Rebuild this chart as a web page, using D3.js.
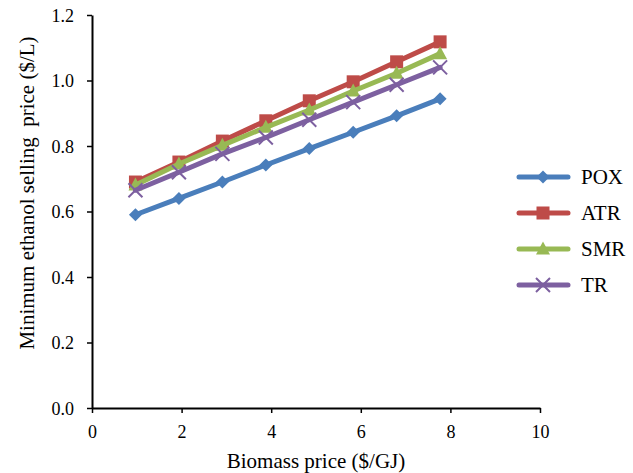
<!DOCTYPE html>
<html>
<head>
<meta charset="utf-8">
<script src="https://cdn.jsdelivr.net/npm/d3@7"></script>
<style>
  body { margin: 0; background: #fff; }
  svg { display: block; }
  svg text { font-family: "Times New Roman", "Liberation Serif", Tinos, serif !important; fill: #000; }
  .tick text { font-size: 18px; }
</style>
</head>
<body>
<svg id="chart" width="633" height="473"></svg>
<script>
// Biomass price ($/GJ) and minimum ethanol selling price ($/L) per process
const biomassPrice = [0.97, 1.94, 2.91, 3.88, 4.85, 5.83, 6.80, 7.77];
const pox = [0.59, 0.64, 0.69, 0.742, 0.792, 0.842, 0.892, 0.944];
const atr = [0.69, 0.751, 0.815, 0.877, 0.938, 0.996, 1.057, 1.118];
const smr = [0.681, 0.745, 0.802, 0.857, 0.91, 0.968, 1.022, 1.082];
const tr  = [0.665, 0.72, 0.776, 0.826, 0.88, 0.934, 0.987, 1.04];
const seriesNames = ["POX", "ATR", "SMR", "TR"];
const seriesColors = ["#4A7EBB", "#BE4B48", "#98B954", "#7D60A0"];
const seriesMarkers = ["diamond", "square", "triangle", "cross"];
const xTicks = [0, 2, 4, 6, 8, 10];
const yTicks = [0, 0.2, 0.4, 0.6, 0.8, 1.0, 1.2];

const seriesValues = [pox, atr, smr, tr];
const svg = d3.select("#chart");

const x = d3.scaleLinear().domain([0, 10]).range([92, 540]);
const y = d3.scaleLinear().domain([0, 1.2]).range([408, 15]);

// Axes
const xAxis = svg.append("g")
  .attr("transform", `translate(0,${y(0)})`)
  .call(d3.axisBottom(x).tickValues(xTicks).tickSize(5).tickSizeOuter(0).tickFormat(d3.format("d")));
const yAxis = svg.append("g")
  .attr("transform", `translate(${x(0)},0)`)
  .call(d3.axisLeft(y).tickValues(yTicks).tickSize(5).tickSizeOuter(0).tickFormat(d3.format(".1f")));

[xAxis, yAxis].forEach(g => {
  g.attr("font-family", null).attr("font-size", 18);
  g.select(".domain").attr("stroke", "#000").attr("stroke-width", 2);
  g.selectAll(".tick line").attr("stroke", "#000").attr("stroke-width", 1.5);
  g.selectAll(".tick text").attr("font-size", 18);
});
xAxis.selectAll(".tick text").attr("y", 30).attr("dy", 0);
yAxis.selectAll(".tick text").attr("x", -18).attr("dy", "0.34em");

// Axis titles
svg.append("text")
  .attr("x", x(5)).attr("y", 468)
  .attr("text-anchor", "middle")
  .style("font-size", "21px")
  .text("Biomass price ($/GJ)");
svg.append("text")
  .attr("transform", `translate(34,${193}) rotate(-90)`)
  .attr("text-anchor", "middle")
  .style("font-size", "21px")
  .style("white-space", "pre")
  .text("Minimum ethanol selling  price ($/L)");

// Marker drawing
function drawMarker(g, type, color, cx, cy) {
  if (type === "diamond") {
    g.append("path").attr("d", `M${cx},${cy - 6.5}L${cx + 6.5},${cy}L${cx},${cy + 6.5}L${cx - 6.5},${cy}Z`)
      .attr("fill", color);
  } else if (type === "square") {
    g.append("rect").attr("x", cx - 6.5).attr("y", cy - 6.5).attr("width", 13).attr("height", 13)
      .attr("fill", color);
  } else if (type === "triangle") {
    g.append("path").attr("d", `M${cx},${cy - 7.5}L${cx + 7},${cy + 5.5}L${cx - 7},${cy + 5.5}Z`)
      .attr("fill", color);
  } else {
    g.append("path").attr("d", `M${cx - 7},${cy - 7}L${cx + 7},${cy + 7}M${cx - 7},${cy + 7}L${cx + 7},${cy - 7}`)
      .attr("stroke", color).attr("stroke-width", 2).attr("fill", "none");
  }
}

const line = d3.line().x(d => x(d[0])).y(d => y(d[1]));

seriesValues.forEach((vals, i) => {
  const pts = biomassPrice.map((p, j) => [p, vals[j]]);
  const g = svg.append("g");
  g.append("path")
    .attr("d", line(pts))
    .attr("fill", "none")
    .attr("stroke", seriesColors[i])
    .attr("stroke-width", 5)
    .attr("stroke-linejoin", "round")
    .attr("stroke-linecap", "round");
  pts.forEach(p => drawMarker(g, seriesMarkers[i], seriesColors[i], x(p[0]), y(p[1])));
});

// Legend
const legend = svg.append("g");
seriesNames.forEach((name, i) => {
  const ly = 177 + i * 36;
  legend.append("line")
    .attr("x1", 519).attr("x2", 568).attr("y1", ly).attr("y2", ly)
    .attr("stroke", seriesColors[i]).attr("stroke-width", 5).attr("stroke-linecap", "round");
  drawMarker(legend, seriesMarkers[i], seriesColors[i], 543, ly);
  legend.append("text")
    .attr("x", 581).attr("y", ly + 7)
    .style("font-size", "21px")
    .text(name);
});
</script>
</body>
</html>
